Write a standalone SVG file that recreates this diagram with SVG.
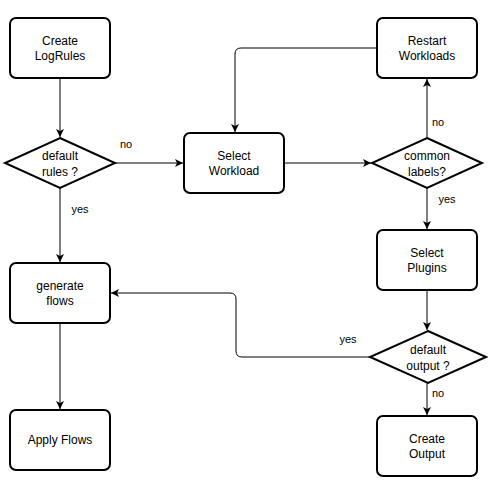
<svg xmlns="http://www.w3.org/2000/svg" width="488" height="494" viewBox="0 0 488 494">
<defs>
<style>
.box{fill:#fff;stroke:#000;stroke-width:2}
.t{font-family:"Liberation Sans",Arial,Helvetica,sans-serif;font-size:12px;fill:#000;text-anchor:middle}
.l{font-family:"Liberation Sans",Arial,Helvetica,sans-serif;font-size:11px;fill:#000;text-anchor:middle}
.c{fill:none;stroke:#000;stroke-width:1}
</style>
<marker id="arr" markerWidth="10" markerHeight="10" refX="8" refY="4" orient="auto" markerUnits="userSpaceOnUse">
<path d="M0,0 L8,4 L0,8 L2,4 z" fill="#000"/>
</marker>
</defs>
<rect width="488" height="494" fill="#fff"/>
<g id="connectors">
<path class="c" d="M60,78 L60,137" marker-end="url(#arr)"/>
<path class="c" d="M115,163 L183,163" marker-end="url(#arr)"/>
<path class="c" d="M60,188 L60,262" marker-end="url(#arr)"/>
<path class="c" d="M60,323 L60,409" marker-end="url(#arr)"/>
<path class="c" d="M284,163 L371,163" marker-end="url(#arr)"/>
<path class="c" d="M427,138 L427,79" marker-end="url(#arr)"/>
<path class="c" d="M377,48 L241,48 Q235,48 235,54 L235,132" marker-end="url(#arr)"/>
<path class="c" d="M427,188 L427,229" marker-end="url(#arr)"/>
<path class="c" d="M427,290 L427,330" marker-end="url(#arr)"/>
<path class="c" d="M427,383 L427,415" marker-end="url(#arr)"/>
<path class="c" d="M370,357 L242,357 Q236,357 236,351 L236,299 Q236,293 230,293 L111,293" marker-end="url(#arr)"/>
<text class="l" x="126" y="148">no</text>
<text class="l" x="80" y="213">yes</text>
<text class="l" x="438" y="126">no</text>
<text class="l" x="447" y="203">yes</text>
<text class="l" x="348" y="343">yes</text>
<text class="l" x="438" y="397">no</text>
</g>
<g id="create-logrules">
<rect class="box" x="10" y="18" width="100" height="60" rx="6"/>
<text class="t" x="60" y="45">Create</text>
<text class="t" x="60" y="60">LogRules</text>
</g>
<g id="default-rules">
<path class="box" d="M60,138 L115,163 L60,188 L5,163 z"/>
<text class="t" x="60" y="160">default</text>
<text class="t" x="60" y="176">rules ?</text>
</g>
<g id="select-workload">
<rect class="box" x="184" y="133" width="100" height="60" rx="6"/>
<text class="t" x="234" y="160">Select</text>
<text class="t" x="234" y="175">Workload</text>
</g>
<g id="restart-workloads">
<rect class="box" x="377" y="18" width="100" height="60" rx="6"/>
<text class="t" x="427" y="45">Restart</text>
<text class="t" x="427" y="60">Workloads</text>
</g>
<g id="common-labels">
<path class="box" d="M427,138 L482,163 L427,188 L372,163 z"/>
<text class="t" x="427" y="160">common</text>
<text class="t" x="427" y="176">labels?</text>
</g>
<g id="select-plugins">
<rect class="box" x="377" y="230" width="100" height="60" rx="6"/>
<text class="t" x="427" y="257">Select</text>
<text class="t" x="427" y="272">Plugins</text>
</g>
<g id="default-output">
<path class="box" d="M428,331 L486,357 L428,383 L370,357 z"/>
<text class="t" x="428" y="354">default</text>
<text class="t" x="428" y="370">output ?</text>
</g>
<g id="create-output">
<rect class="box" x="377" y="416" width="100" height="60" rx="6"/>
<text class="t" x="427" y="443">Create</text>
<text class="t" x="427" y="458">Output</text>
</g>
<g id="generate-flows">
<rect class="box" x="10" y="263" width="100" height="60" rx="6"/>
<text class="t" x="60" y="290">generate</text>
<text class="t" x="60" y="305">flows</text>
</g>
<g id="apply-flows">
<rect class="box" x="10" y="410" width="100" height="60" rx="6"/>
<text class="t" x="60" y="444">Apply Flows</text>
</g>
</svg>
